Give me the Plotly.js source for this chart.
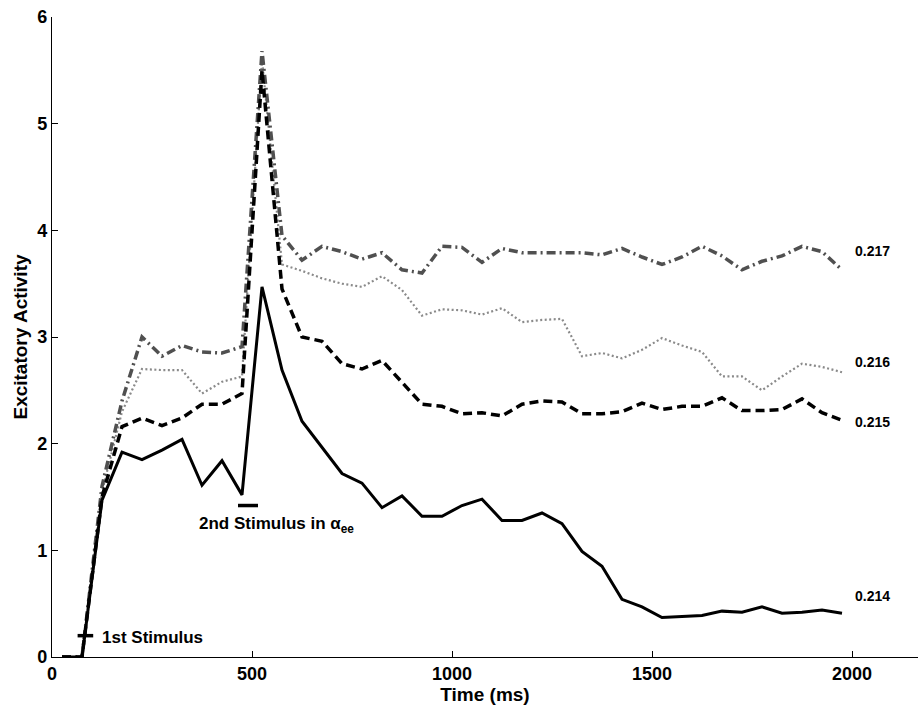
<!DOCTYPE html>
<html>
<head>
<meta charset="utf-8">
<script src="https://cdn.plot.ly/plotly-3.0.1.min.js"></script>
<style>html,body{margin:0;padding:0;background:#fff;}#chart{width:920px;height:711px;}</style>
</head>
<body>
<div id="chart"></div>
<script>
// Time samples (ms)
const timeMs = [25,75,125,175,225,275,325,375,425,475,
                525,575,625,675,725,775,825,875,925,975,
                1025,1075,1125,1175,1225,1275,1325,1375,1425,1475,
                1525,1575,1625,1675,1725,1775,1825,1875,1925,1975];

// Excitatory activity for alpha_ee = 0.214 (solid)
const act214 = [0,0,1.47,1.92,1.85,1.94,2.04,1.61,1.84,1.52,
                3.47,2.69,2.21,1.97,1.72,1.63,1.40,1.51,1.32,1.32,
                1.42,1.48,1.28,1.28,1.35,1.25,0.99,0.85,0.54,0.47,
                0.37,0.38,0.39,0.43,0.42,0.47,0.41,0.42,0.44,0.41];
// 0.215 (dashed)
const act215 = [0,0,1.50,2.16,2.24,2.17,2.24,2.37,2.37,2.47,
                5.50,3.45,3.00,2.96,2.75,2.70,2.78,2.57,2.37,2.35,
                2.28,2.29,2.26,2.37,2.40,2.39,2.28,2.28,2.30,2.38,
                2.32,2.35,2.35,2.43,2.31,2.31,2.32,2.42,2.29,2.22];
// 0.216 (dotted)
const act216 = [0,0,1.55,2.30,2.70,2.69,2.69,2.47,2.58,2.63,
                5.60,3.68,3.62,3.55,3.50,3.47,3.57,3.44,3.20,3.26,
                3.25,3.21,3.27,3.14,3.16,3.17,2.82,2.85,2.80,2.88,
                2.99,2.92,2.86,2.63,2.63,2.50,2.63,2.75,2.72,2.67];
// 0.217 (dash-dot)
const act217 = [0,0,1.60,2.40,3.00,2.82,2.92,2.86,2.85,2.91,
                5.68,3.95,3.72,3.85,3.80,3.73,3.79,3.63,3.60,3.85,
                3.84,3.70,3.83,3.79,3.79,3.79,3.79,3.77,3.83,3.75,
                3.68,3.75,3.85,3.76,3.63,3.71,3.76,3.85,3.80,3.63];

// Stimulus markers
const stim1X = [64,103], stim1Y = [0.2,0.2];
const stim2X = [465,515], stim2Y = [1.42,1.42];

// Curve labels
const labelText = ['0.217','0.216','0.215','0.214'];
const labelX = [2003,2003,2003,2003];
const labelY = [3.81,2.77,2.20,0.57];

const xTicks = [0,500,1000,1500,2000];
const yTicks = [0,1,2,3,4,5,6];

const FONT = 'Liberation Sans, Arial, Helvetica, sans-serif';

const traces = [
  {x: timeMs, y: act216, mode:'lines', line:{color:'#8a8a8a', width:2.2, dash:'2px,2.5px'}, hoverinfo:'skip'},
  {x: timeMs, y: act217, mode:'lines', line:{color:'#505050', width:3.5, dash:'9px,4px,2px,4px'}, hoverinfo:'skip'},
  {x: timeMs, y: act215, mode:'lines', line:{color:'#000000', width:3.5, dash:'9px,5px'}, hoverinfo:'skip'},
  {x: timeMs, y: act214, mode:'lines', line:{color:'#000000', width:3}, hoverinfo:'skip'},
  {x: stim1X, y: stim1Y, mode:'lines', line:{color:'#000000', width:3.5}, hoverinfo:'skip'},
  {x: stim2X, y: stim2Y, mode:'lines', line:{color:'#000000', width:3.5}, hoverinfo:'skip'}
];

const annotations = labelText.map((t,i)=>({
  x: labelX[i], y: labelY[i], xref:'x', yref:'y', text: t, showarrow:false,
  xanchor:'left', yanchor:'middle', font:{family:FONT, size:14, color:'#000', weight:'bold'}
}));
annotations.push({x:120, y:0.18, xref:'x', yref:'y', text:'1st Stimulus', showarrow:false,
  xanchor:'left', yanchor:'middle', font:{family:FONT, size:17, color:'#000', weight:'bold'}});
annotations.push({x:362, y:1.24, xref:'x', yref:'y', text:'2nd Stimulus in α<sub>ee</sub>', showarrow:false,
  xanchor:'left', yanchor:'middle', font:{family:FONT, size:17, color:'#000', weight:'bold'}});

const layout = {
  width: 920, height: 711,
  margin: {l:52, r:2, t:17, b:54, pad:0},
  paper_bgcolor:'#fff', plot_bgcolor:'#fff',
  showlegend: false,
  font: {family: FONT, color:'#000'},
  xaxis: {
    range:[0,2165], tickvals:xTicks, ticktext:xTicks.map(String),
    ticks:'inside', ticklen:6, tickcolor:'#000', tickwidth:1,
    showline:true, linecolor:'#000', linewidth:1.2, mirror:false,
    showgrid:false, zeroline:false,
    tickfont:{family:FONT, size:18, color:'#000', weight:'bold'},
    title:{text:'Time (ms)', font:{family:FONT, size:19, color:'#000', weight:'bold'}, standoff:2}
  },
  yaxis: {
    range:[0,6], tickvals:yTicks, ticktext:yTicks.map(String),
    ticks:'inside', ticklen:6, tickcolor:'#000', tickwidth:1,
    showline:true, linecolor:'#000', linewidth:1.2, mirror:false,
    showgrid:false, zeroline:false,
    tickfont:{family:FONT, size:18, color:'#000', weight:'bold'},
    title:{text:'Excitatory Activity', font:{family:FONT, size:19, color:'#000', weight:'bold'}, standoff:4}
  },
  annotations: annotations
};

Plotly.newPlot('chart', traces, layout, {staticPlot:true, displayModeBar:false});
</script>
</body>
</html>
